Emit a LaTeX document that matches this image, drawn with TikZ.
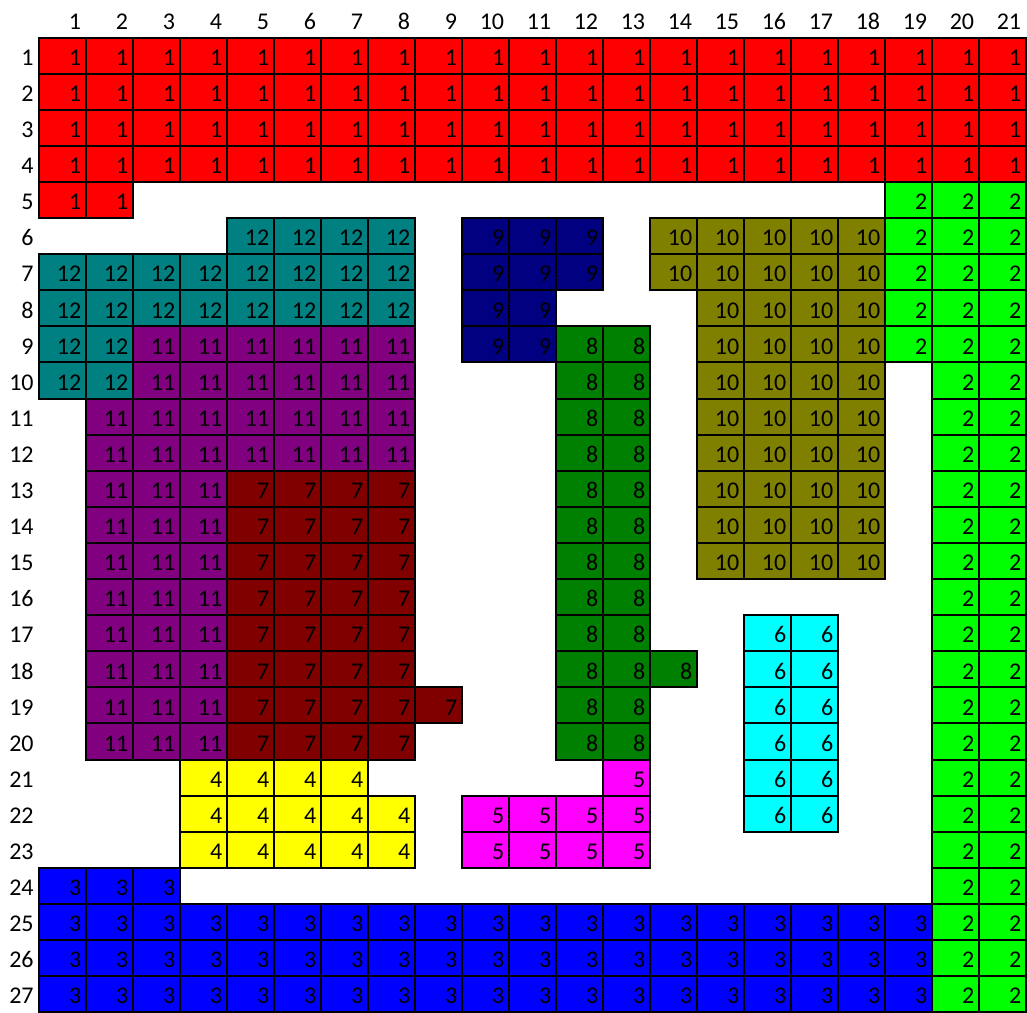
\documentclass[tikz,border=0pt]{standalone}
\usepackage{fontspec}
\setmainfont{Carlito}
\usetikzlibrary{positioning}

\definecolor{xred}{RGB}{255,0,0}
\definecolor{xlime}{RGB}{0,255,0}
\definecolor{xblue}{RGB}{0,0,255}
\definecolor{xyellow}{RGB}{255,255,0}
\definecolor{xmagenta}{RGB}{255,0,255}
\definecolor{xcyan}{RGB}{0,255,255}
\definecolor{xmaroon}{RGB}{128,0,0}
\definecolor{xgreen}{RGB}{0,128,0}
\definecolor{xnavy}{RGB}{0,0,128}
\definecolor{xolive}{RGB}{128,128,0}
\definecolor{xpurple}{RGB}{128,0,128}
\definecolor{xteal}{RGB}{0,128,128}

\begin{document}
\begin{tikzpicture}[x=47pt,y=-36.1pt,
 cell/.style={draw=black,line width=2pt,minimum width=47pt,minimum height=36.1pt,inner sep=0pt,outer sep=0pt},
 num/.style={anchor=base east,inner sep=0pt,font=\fontsize{24}{29}\selectfont},
 head/.style={anchor=base east,inner sep=0pt,font=\fontsize{24}{29}\selectfont}]
\useasboundingbox (-39pt,37.5pt) rectangle (988pt,-974.5pt);
% column and row numbers
\foreach \c in {1,...,21}
  \node[head] (col\c) at (\c-0.1,-0.23) {\c};
\foreach \r in {1,...,27}
  \node[head] (row\r) at (-0.11,\r-0.23) {\r};
% blocks: row / first col / last col / value / colour
\foreach \r/\a/\b/\v/\k in {
 1/1/21/1/xred, 2/1/21/1/xred, 3/1/21/1/xred, 4/1/21/1/xred,
 5/1/2/1/xred, 5/19/21/2/xlime,
 6/5/8/12/xteal, 6/10/12/9/xnavy, 6/14/18/10/xolive, 6/19/21/2/xlime,
 7/1/8/12/xteal, 7/10/12/9/xnavy, 7/14/18/10/xolive, 7/19/21/2/xlime,
 8/1/8/12/xteal, 8/10/11/9/xnavy, 8/15/18/10/xolive, 8/19/21/2/xlime,
 9/1/2/12/xteal, 9/3/8/11/xpurple, 9/10/11/9/xnavy, 9/12/13/8/xgreen, 9/15/18/10/xolive, 9/19/21/2/xlime,
 10/1/2/12/xteal, 10/3/8/11/xpurple, 10/12/13/8/xgreen, 10/15/18/10/xolive, 10/20/21/2/xlime,
 11/2/8/11/xpurple, 11/12/13/8/xgreen, 11/15/18/10/xolive, 11/20/21/2/xlime,
 12/2/8/11/xpurple, 12/12/13/8/xgreen, 12/15/18/10/xolive, 12/20/21/2/xlime,
 13/2/4/11/xpurple, 13/5/8/7/xmaroon, 13/12/13/8/xgreen, 13/15/18/10/xolive, 13/20/21/2/xlime,
 14/2/4/11/xpurple, 14/5/8/7/xmaroon, 14/12/13/8/xgreen, 14/15/18/10/xolive, 14/20/21/2/xlime,
 15/2/4/11/xpurple, 15/5/8/7/xmaroon, 15/12/13/8/xgreen, 15/15/18/10/xolive, 15/20/21/2/xlime,
 16/2/4/11/xpurple, 16/5/8/7/xmaroon, 16/12/13/8/xgreen, 16/20/21/2/xlime,
 17/2/4/11/xpurple, 17/5/8/7/xmaroon, 17/12/13/8/xgreen, 17/16/17/6/xcyan, 17/20/21/2/xlime,
 18/2/4/11/xpurple, 18/5/8/7/xmaroon, 18/12/14/8/xgreen, 18/16/17/6/xcyan, 18/20/21/2/xlime,
 19/2/4/11/xpurple, 19/5/9/7/xmaroon, 19/12/13/8/xgreen, 19/16/17/6/xcyan, 19/20/21/2/xlime,
 20/2/4/11/xpurple, 20/5/8/7/xmaroon, 20/12/13/8/xgreen, 20/16/17/6/xcyan, 20/20/21/2/xlime,
 21/4/7/4/xyellow, 21/13/13/5/xmagenta, 21/16/17/6/xcyan, 21/20/21/2/xlime,
 22/4/8/4/xyellow, 22/10/13/5/xmagenta, 22/16/17/6/xcyan, 22/20/21/2/xlime,
 23/4/8/4/xyellow, 23/10/13/5/xmagenta, 23/20/21/2/xlime,
 24/1/3/3/xblue, 24/20/21/2/xlime,
 25/1/19/3/xblue, 25/20/21/2/xlime,
 26/1/19/3/xblue, 26/20/21/2/xlime,
 27/1/19/3/xblue, 27/20/21/2/xlime}
 \foreach \c in {\a,...,\b}{
  \node[cell,fill=\k] (c\r-\c) at (\c-0.5,\r-0.5) {};
  \node[num] at ([xshift=-4.5pt,yshift=8.3pt]c\r-\c.south east) {\v};
 }
\end{tikzpicture}
\end{document}
